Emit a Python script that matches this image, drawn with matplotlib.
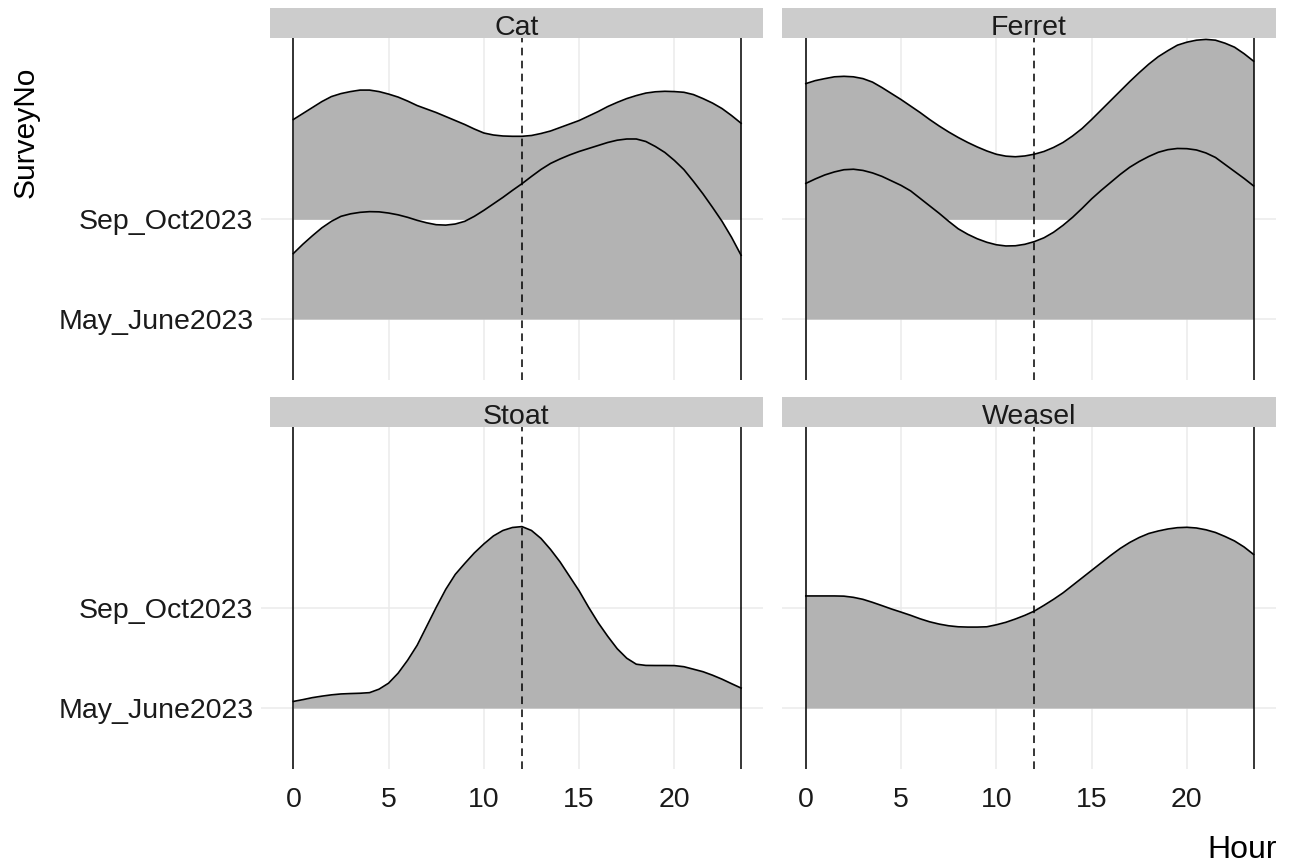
import matplotlib
matplotlib.use("Agg")
import matplotlib.pyplot as plt

plt.rcParams['font.family'] = ['Liberation Sans', 'DejaVu Sans']

# ---------------- data ----------------
species = ["Cat", "Ferret", "Stoat", "Weasel"]
survey_levels = ["May_June2023", "Sep_Oct2023"]

hours = [0, 0.5, 1, 1.5, 2, 2.5, 3, 3.5, 4, 4.5, 5, 5.5, 6, 6.5, 7, 7.5,
         8, 8.5, 9, 9.5, 10, 10.5, 11, 11.5, 12, 12.5, 13, 13.5, 14, 14.5, 15, 15.5,
         16, 16.5, 17, 17.5, 18, 18.5, 19, 19.5, 20, 20.5, 21, 21.5, 22, 22.5, 23, 23.5]

cat_sep = [1.00, 1.06, 1.12, 1.18, 1.23, 1.26, 1.28, 1.295, 1.295, 1.28, 1.255, 1.225, 1.185, 1.14, 1.105, 1.07,
           1.03, 0.99, 0.95, 0.905, 0.865, 0.845, 0.835, 0.832, 0.832, 0.84, 0.86, 0.885, 0.92, 0.955, 0.99, 1.035,
           1.08, 1.13, 1.172, 1.21, 1.24, 1.265, 1.278, 1.283, 1.28, 1.273, 1.25, 1.21, 1.165, 1.11, 1.04, 0.963]
cat_may = [0.657, 0.75, 0.835, 0.915, 0.98, 1.03, 1.055, 1.07, 1.077, 1.075, 1.063, 1.045, 1.02, 0.99, 0.965, 0.946,
           0.942, 0.953, 0.98, 1.03, 1.09, 1.155, 1.22, 1.29, 1.357, 1.43, 1.50, 1.56, 1.605, 1.645, 1.68, 1.71,
           1.74, 1.77, 1.793, 1.805, 1.805, 1.78, 1.73, 1.67, 1.59, 1.498, 1.38, 1.255, 1.12, 0.98, 0.82, 0.64]
ferret_sep = [1.36, 1.39, 1.41, 1.428, 1.433, 1.428, 1.41, 1.375, 1.32, 1.26, 1.20, 1.135, 1.07, 1.00, 0.935, 0.875,
              0.82, 0.77, 0.725, 0.685, 0.652, 0.633, 0.627, 0.635, 0.653, 0.68, 0.72, 0.77, 0.835, 0.91, 1.00, 1.095,
              1.19, 1.285, 1.38, 1.47, 1.555, 1.63, 1.69, 1.745, 1.775, 1.795, 1.803, 1.795, 1.765, 1.725, 1.66, 1.585]
ferret_may = [1.36, 1.405, 1.445, 1.475, 1.497, 1.502, 1.49, 1.465, 1.43, 1.385, 1.34, 1.285, 1.21, 1.135, 1.06, 0.98,
              0.905, 0.85, 0.805, 0.77, 0.745, 0.733, 0.735, 0.75, 0.777, 0.815, 0.87, 0.94, 1.02, 1.11, 1.205, 1.29,
              1.37, 1.45, 1.522, 1.58, 1.63, 1.672, 1.698, 1.71, 1.708, 1.695, 1.665, 1.62, 1.55, 1.48, 1.41, 1.335]
stoat_may = [0.067, 0.085, 0.105, 0.12, 0.133, 0.142, 0.146, 0.149, 0.155, 0.19, 0.25, 0.35, 0.48, 0.63, 0.82, 1.01,
             1.19, 1.34, 1.45, 1.555, 1.645, 1.725, 1.78, 1.81, 1.819, 1.78, 1.70, 1.59, 1.465, 1.32, 1.175, 1.01,
             0.856, 0.72, 0.595, 0.50, 0.44, 0.428, 0.427, 0.427, 0.426, 0.415, 0.39, 0.365, 0.33, 0.29, 0.245, 0.201]
weasel_may = [1.124, 1.124, 1.124, 1.124, 1.122, 1.11, 1.09, 1.06, 1.027, 0.993, 0.962, 0.93, 0.895, 0.865, 0.842, 0.825,
              0.815, 0.812, 0.812, 0.815, 0.835, 0.86, 0.893, 0.93, 0.973, 1.03, 1.09, 1.155, 1.23, 1.305, 1.38, 1.455,
              1.53, 1.60, 1.66, 1.71, 1.75, 1.775, 1.795, 1.808, 1.812, 1.805, 1.787, 1.76, 1.72, 1.675, 1.615, 1.54]

ridges = {
    "Cat": {"Sep_Oct2023": cat_sep, "May_June2023": cat_may},
    "Ferret": {"Sep_Oct2023": ferret_sep, "May_June2023": ferret_may},
    "Stoat": {"May_June2023": stoat_may},
    "Weasel": {"May_June2023": weasel_may},
}

hour_range = [0, 23.5]
midday = 12
x_ticks = [0, 5, 10, 15, 20]

# ---------------- layout ----------------
W, H = 1292, 868
fig = plt.figure(figsize=(W / 100, H / 100), dpi=100)

def fig_rect(l, t, r, b):
    return [l / W, 1 - b / H, (r - l) / W, (b - t) / H]

panels = {
    "Cat": (269.5, 37.7, 763, 380, 8.3),
    "Ferret": (782, 37.7, 1275.5, 380, 8.3),
    "Stoat": (269.5, 426.7, 763, 769, 397.3),
    "Weasel": (782, 426.7, 1275.5, 769, 397.3),
}

grid_c = "#EBEBEB"
fill_c = "#B3B3B3"
fs = 20.5

for i, sp in enumerate(species):
    l, t, r, b, st = panels[sp]
    ax = fig.add_axes(fig_rect(l, t, r, b))
    ax.set_xlim(-1.25, 24.65)
    ax.set_ylim(0.39, 3.82)
    for s in ax.spines.values():
        s.set_visible(False)
    ax.set_xticks(x_ticks)
    ax.set_yticks([1, 2])
    ax.grid(True, color=grid_c, lw=1.1, zorder=0)
    ax.set_axisbelow(True)

    # ridges, top level first
    for lev in ["Sep_Oct2023", "May_June2023"]:
        if lev not in ridges[sp]:
            continue
        base = survey_levels.index(lev) + 1
        top = [base + v for v in ridges[sp][lev]]
        ax.fill_between(hours, base, top, color=fill_c, lw=0, zorder=2)
        ax.plot(hours, top, color="black", lw=1.2, zorder=3, solid_joinstyle="round")

    for xv in hour_range:
        ax.axvline(xv, color="black", lw=1.1, zorder=4)
    ax.axvline(midday, color="black", lw=1.1, ls=(0, (5, 3.5)), zorder=4)

    left_col = i % 2 == 0
    bottom_row = i >= 2
    if left_col:
        ax.set_yticklabels(survey_levels)
        ax.tick_params(axis="y", length=6.5, width=1.1, color=grid_c, pad=5,
                       labelsize=fs, labelcolor="#1a1a1a")
    else:
        ax.tick_params(axis="y", length=0, labelleft=False)
    if bottom_row:
        ax.set_xticklabels([str(v) for v in x_ticks])
        ax.tick_params(axis="x", length=0, pad=13, labelsize=fs, labelcolor="#1a1a1a")
    else:
        ax.tick_params(axis="x", length=0, labelbottom=False)

    # strip
    sax = fig.add_axes(fig_rect(l, st, r, t))
    sax.set_facecolor("#CCCCCC")
    sax.set_xticks([])
    sax.set_yticks([])
    for s in sax.spines.values():
        s.set_visible(False)
    sax.text(0.5, 0.09, sp, transform=sax.transAxes, ha="center", va="baseline",
             fontsize=fs, color="#1a1a1a")

fig.text(26 / W, 1 - 132 / H, "SurveyNo", rotation=90, ha="center", va="center",
         fontsize=21.5, color="black")
fig.text(1277 / W, 1 - 850 / H, "Hour", ha="right", va="center",
         fontsize=23, color="black")

fig.savefig("out.png", dpi=100)
